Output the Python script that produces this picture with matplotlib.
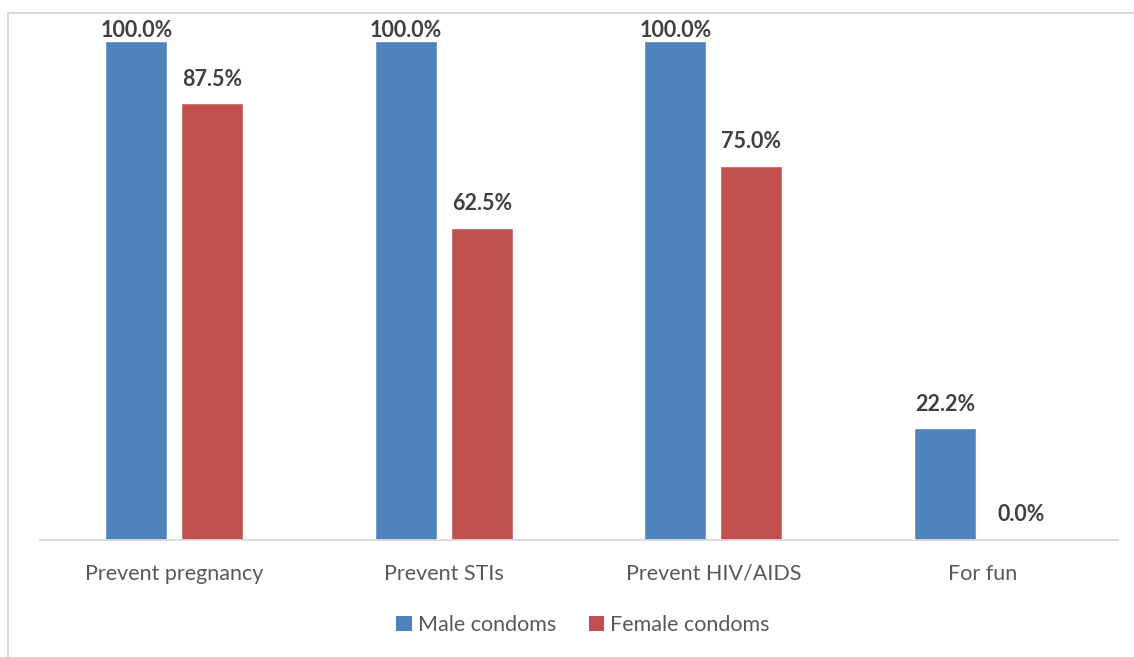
import matplotlib
matplotlib.use("Agg")
import matplotlib.pyplot as plt
from matplotlib.lines import Line2D
from matplotlib.patches import Patch
import numpy as np

categories = ["Prevent pregnancy", "Prevent STIs", "Prevent HIV/AIDS", "For fun"]
male = [100.0, 100.0, 100.0, 22.2]
female = [87.5, 62.5, 75.0, 0.0]

blue = "#4F81BD"
red = "#C0504D"

plt.rcParams["font.family"] = ["Lato", "DejaVu Sans"]

fig = plt.figure(figsize=(11.34, 6.57), dpi=100)
ax = fig.add_axes([39.5 / 1134, 117 / 657, 1078 / 1134, 498 / 657])

x = np.arange(len(categories))
w = 0.223
off = 0.141
b1 = ax.bar(x - off, male, w, color=blue, edgecolor="#6a95c8", linewidth=0.6)
b2 = ax.bar(x + off, female, w, color=red, edgecolor="#cc6d6a", linewidth=0.6)

# value labels: sit above the bar, pulled down when at the top of the plot area
for bars, vals in [(b1, male), (b2, female)]:
    for rect, v in zip(bars, vals):
        dy = 0.5 if v >= 100 else 10.5
        ax.annotate(f"{v:.1f}%", (rect.get_x() + rect.get_width() / 2, v),
                    xytext=(0, dy), textcoords="offset points",
                    ha="center", va="bottom", fontsize=15.5, fontweight="bold",
                    color="#404040", annotation_clip=False)

ax.set_xlim(-0.5, len(categories) - 0.5)
ax.set_ylim(0, 100)
ax.set_xticks(x)
ax.set_xticklabels(categories, fontsize=15.5, color="#595959")
ax.tick_params(axis="x", length=0, pad=17)
ax.set_yticks([])
for side in ["top", "right", "left"]:
    ax.spines[side].set_visible(False)
ax.spines["bottom"].set_color("#D9D9D9")
ax.spines["bottom"].set_linewidth(1.3)

handles = [Patch(facecolor=blue, label="Male condoms"),
           Patch(facecolor=red, label="Female condoms")]
fig.legend(handles=handles, loc="center", bbox_to_anchor=(583 / 1134, 1 - 625 / 657),
           ncol=2, frameon=False, fontsize=15.5, labelcolor="#595959",
           handlelength=0.7, handleheight=0.7, handletextpad=0.3, columnspacing=1.5)

# chart frame
fig.add_artist(Line2D([8 / 1134, 1], [1 - 13 / 657, 1 - 13 / 657],
                      transform=fig.transFigure, color="#D9D9D9", lw=1.5))
fig.add_artist(Line2D([8 / 1134, 8 / 1134], [0, 1 - 13 / 657],
                      transform=fig.transFigure, color="#D9D9D9", lw=1.5))

fig.savefig("out.png", dpi=100)
